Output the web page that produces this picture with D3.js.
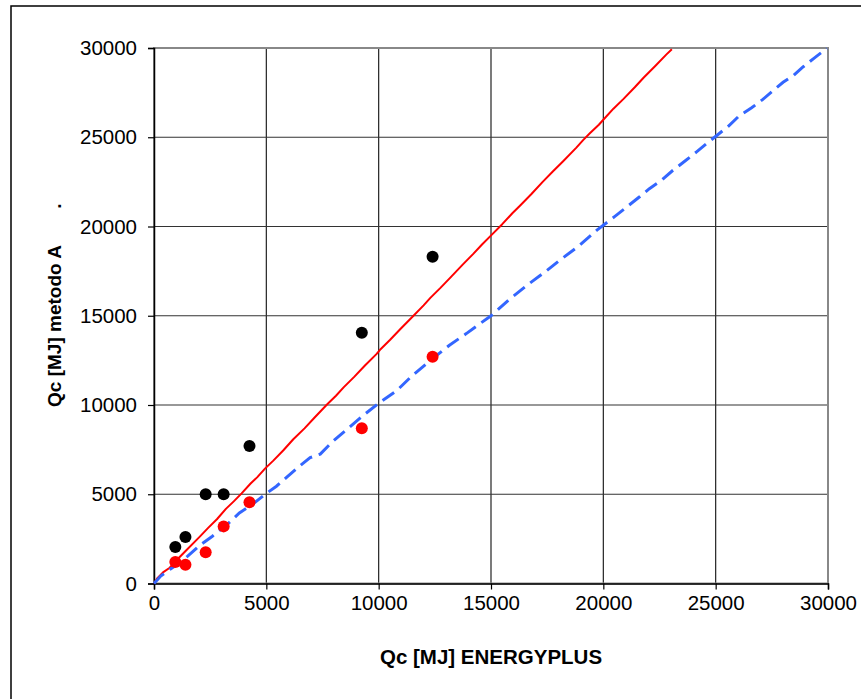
<!DOCTYPE html>
<html>
<head>
<meta charset="utf-8">
<script src="https://cdn.jsdelivr.net/npm/d3@7"></script>
<style>
  body { margin: 0; background: #fff; }
  text { font-family: "Liberation Sans", Arial, sans-serif; fill: #000; }
</style>
</head>
<body>
<svg id="chart"></svg>
<script>
// ticks
var tickValues = [0, 5000, 10000, 15000, 20000, 25000, 30000];

// points (Qc EnergyPlus vs Qc metodo A)
var pointsX = [950, 1400, 2300, 3100, 4250, 9250, 12400];
var blackY = [2050, 2600, 5000, 5000, 7700, 14050, 18300];
var redY = [1200, 1050, 1750, 3200, 4550, 8700, 12700];

// red line
var redLineX = [0, 150, 400, 700, 1000, 1450, 2050, 2400, 2800, 3200, 3550, 3900, 4300, 4600, 4950, 5300, 5750, 6200, 6700, 7150, 7700, 8100, 8450, 8900, 9400, 9900, 10050, 10500, 11000, 11550, 12000, 12300, 12750, 13200, 13750, 14200, 14600, 15050, 15500, 15950, 16300, 16800, 17300, 17750, 18200, 18800, 19100, 19400, 19800, 20050, 20450, 20900, 21400, 21800, 22300, 22800, 23050];
var redLineY = [0, 300, 620, 880, 1300, 1880, 2640, 3100, 3600, 4180, 4600, 5050, 5600, 5960, 6450, 6870, 7450, 8080, 8690, 9300, 10030, 10520, 11000, 11560, 12230, 12850, 13080, 13640, 14300, 15000, 15580, 16000, 16560, 17150, 17880, 18450, 18990, 19560, 20130, 20740, 21180, 21820, 22500, 23080, 23640, 24420, 24840, 25220, 25700, 26050, 26600, 27150, 27800, 28350, 28980, 29630, 29930];

// blue dashed line
var blueLineX = [0, 300, 700, 1100, 1500, 2050, 2600, 3250, 3800, 4400, 4950, 5450, 5900, 6450, 6950, 7400, 7950, 8600, 9300, 10050, 10800, 11500, 12400, 13150, 13900, 14500, 15000, 15800, 16700, 17400, 18050, 18900, 19700, 20500, 21100, 21600, 22050, 22600, 23100, 23650, 24150, 24600, 25050, 25550, 26050, 26600, 27100, 27550, 28000, 28450, 28900, 29400, 29950];
var blueLineY = [0, 420, 780, 1120, 1530, 2150, 2650, 3300, 3950, 4450, 5000, 5450, 5950, 6550, 7050, 7250, 7950, 8650, 9400, 10150, 10800, 11650, 12600, 13350, 14000, 14550, 15000, 15900, 16800, 17450, 18100, 18900, 19780, 20550, 21150, 21650, 22120, 22600, 23150, 23680, 24180, 24650, 25100, 25600, 26200, 26650, 27120, 27600, 28080, 28450, 28950, 29450, 29980];

var W = 861, H = 699;
var margin = {top: 48, left: 154},
    width = 674, height = 535.5;

var svg = d3.select("#chart").attr("width", W).attr("height", H);

// outer chart border (right/bottom run off the picture)
svg.append("rect")
  .attr("x", 11).attr("y", 6)
  .attr("width", W).attr("height", H)
  .attr("fill", "none").attr("stroke", "#000").attr("stroke-width", 1.5);

var g = svg.append("g")
  .attr("transform", "translate(" + margin.left + "," + margin.top + ")");

var x = d3.scaleLinear().domain([0, 30000]).range([0, width]);
var y = d3.scaleLinear().domain([0, 30000]).range([height, 0]);

// gridlines
g.selectAll(".vgrid")
  .data(tickValues.filter(d => d > 0 && d < 30000))
  .enter().append("line")
  .attr("x1", d => x(d)).attr("x2", d => x(d))
  .attr("y1", 0).attr("y2", height)
  .attr("stroke", "#222").attr("stroke-width", 1.2);

g.selectAll(".hgrid")
  .data(tickValues.filter(d => d > 0 && d < 30000))
  .enter().append("line")
  .attr("x1", 0).attr("x2", width)
  .attr("y1", d => y(d)).attr("y2", d => y(d))
  .attr("stroke", "#333").attr("stroke-width", 1.2);

// plot area border
g.append("rect")
  .attr("width", width).attr("height", height)
  .attr("fill", "none").attr("stroke", "#888").attr("stroke-width", 2);

// axes
var xAxis = g.append("g")
  .attr("transform", "translate(0," + height + ")")
  .call(d3.axisBottom(x).tickValues(tickValues).tickSize(6).tickPadding(6).tickFormat(d3.format("d")));
var yAxis = g.append("g")
  .call(d3.axisLeft(y).tickValues(tickValues).tickSize(6).tickPadding(11).tickFormat(d3.format("d")));

[xAxis, yAxis].forEach(function(a) {
  a.select(".domain").attr("stroke", "#000").attr("stroke-width", 1.5);
  a.selectAll(".tick line").attr("stroke", "#000").attr("stroke-width", 1.2);
  a.selectAll(".tick text")
    .style("font-family", "'Liberation Sans', Arial, sans-serif")
    .style("font-size", "20.5px").attr("fill", "#000");
});

// red line
var line = d3.line().x(d => x(d[0])).y(d => y(d[1]));
g.append("path")
  .datum(redLineX.map((v, i) => [v, redLineY[i]]))
  .attr("d", line)
  .attr("fill", "none").attr("stroke", "#ff0000").attr("stroke-width", 2)
  .attr("stroke-linejoin", "round");

// blue dashed line
g.append("path")
  .datum(blueLineX.map((v, i) => [v, blueLineY[i]]))
  .attr("d", line)
  .attr("fill", "none").attr("stroke", "#3366ff").attr("stroke-width", 3)
  .attr("stroke-dasharray", "14,7");

// points
g.selectAll(".blk")
  .data(pointsX.map((v, i) => [v, blackY[i]]))
  .enter().append("circle")
  .attr("cx", d => x(d[0])).attr("cy", d => y(d[1]))
  .attr("r", 6).attr("fill", "#000");

g.selectAll(".red")
  .data(pointsX.map((v, i) => [v, redY[i]]))
  .enter().append("circle")
  .attr("cx", d => x(d[0])).attr("cy", d => y(d[1]))
  .attr("r", 6).attr("fill", "#ff0000");

// axis titles
svg.append("text")
  .attr("x", 491).attr("y", 664)
  .attr("text-anchor", "middle")
  .style("font-size", "20.5px").style("font-weight", "bold")
  .text("Qc [MJ] ENERGYPLUS");

svg.append("text")
  .attr("transform", "translate(61,326) rotate(-90)")
  .attr("text-anchor", "middle")
  .style("font-size", "19px").style("font-weight", "bold")
  .text("Qc [MJ] metodo A");

svg.append("text")
  .attr("transform", "translate(61,206) rotate(-90)")
  .attr("text-anchor", "middle")
  .style("font-size", "19px").style("font-weight", "bold")
  .text(".");
</script>
</body>
</html>
